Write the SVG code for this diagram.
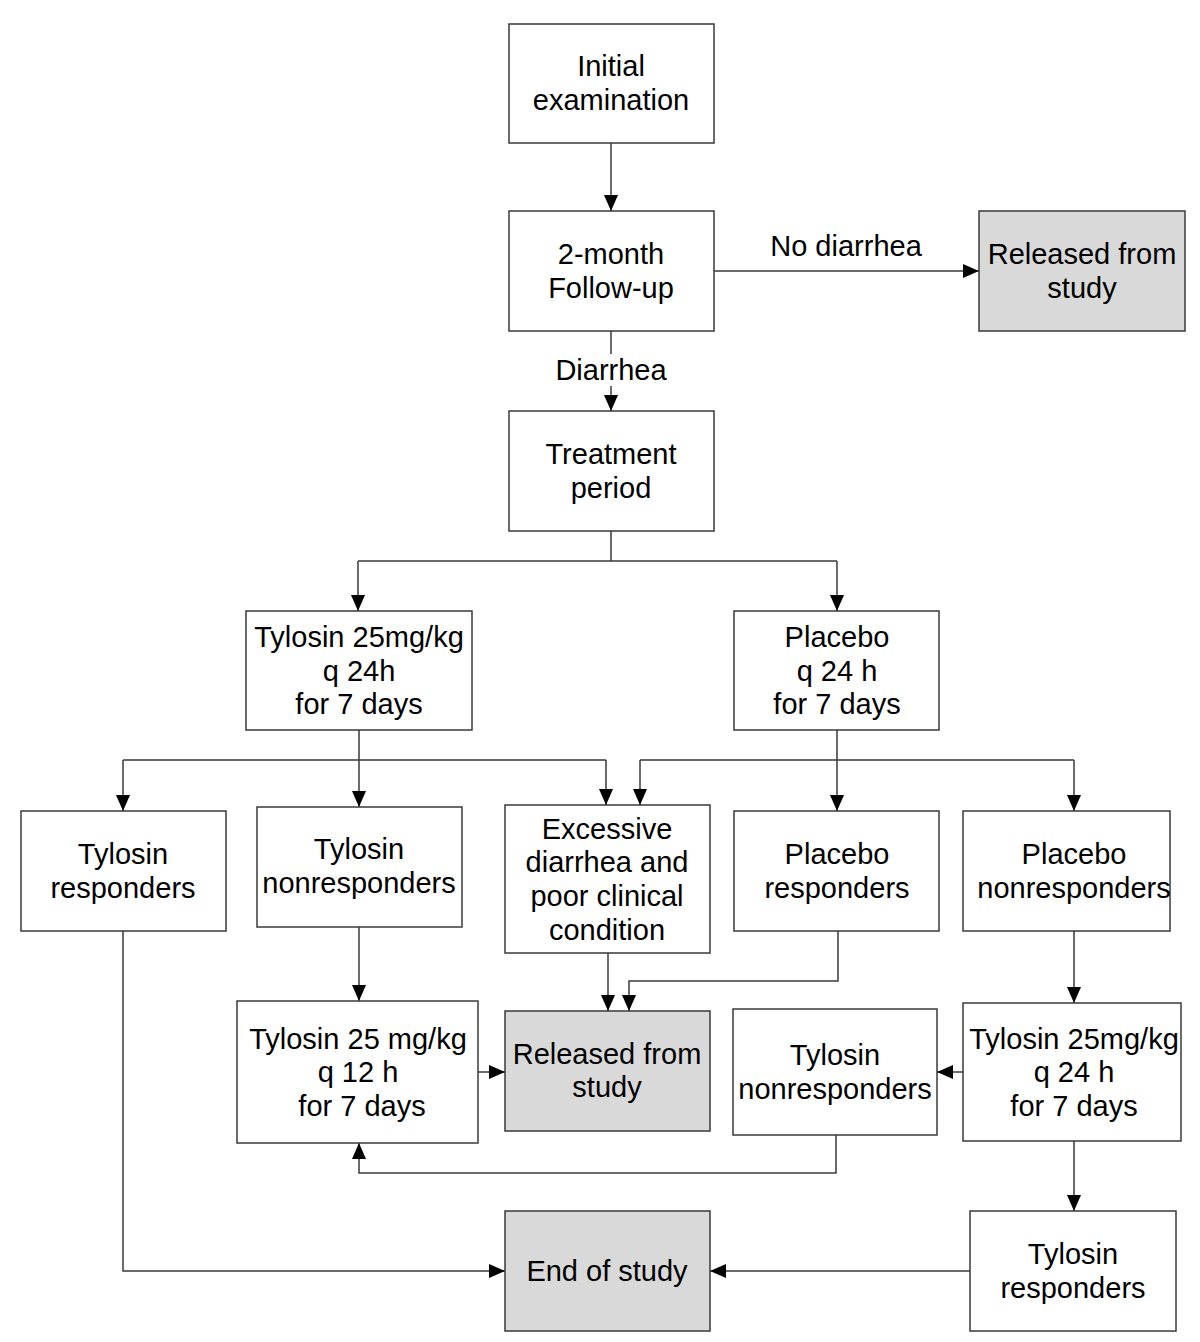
<svg xmlns="http://www.w3.org/2000/svg" width="1200" height="1342" viewBox="0 0 1200 1342">
<style>
.box{fill:#ffffff;stroke:#3a3a3a;stroke-width:1.5}
.gray{fill:#d9d9d9;stroke:#3a3a3a;stroke-width:1.5}
.t{font-family:"Liberation Sans",Arial,sans-serif;font-size:29px;fill:#000;text-anchor:middle}
.c{fill:none;stroke:#3a3a3a;stroke-width:1.5}
.a{marker-end:url(#ah)}
</style>
<defs>
<marker id="ah" viewBox="0 0 16 14" refX="16" refY="7" markerWidth="16" markerHeight="14" markerUnits="userSpaceOnUse" orient="auto">
<path d="M0,0 L16,7 L0,14 z" fill="#000"/>
</marker>
</defs>
<rect width="1200" height="1342" fill="#ffffff"/>
<g id="connectors">
<path class="c a" d="M611,143 V211"/>
<path class="c a" d="M714,271 H979"/>
<path class="c" d="M611,331 V354"/>
<path class="c a" d="M611,386 V411"/>
<path class="c" d="M611,531 V561 M358,561 H837"/>
<path class="c a" d="M358,561 V611"/>
<path class="c a" d="M837,561 V611"/>
<path class="c" d="M359,730 V760 M123,760 H606"/>
<path class="c a" d="M123,760 V811"/>
<path class="c a" d="M359,760 V807"/>
<path class="c a" d="M606,760 V805"/>
<path class="c" d="M837,730 V760 M640,760 H1074"/>
<path class="c a" d="M640,760 V805"/>
<path class="c a" d="M837,760 V811"/>
<path class="c a" d="M1074,760 V811"/>
<path class="c a" d="M359,927 V1001"/>
<path class="c a" d="M608,953 V1011"/>
<path class="c a" d="M838,931 V981 H629 V1011"/>
<path class="c a" d="M478,1072 H505"/>
<path class="c a" d="M1074,931 V1003"/>
<path class="c a" d="M963,1072 H937"/>
<path class="c a" d="M836,1135 V1173 H359 V1143"/>
<path class="c a" d="M1074,1141 V1211"/>
<path class="c a" d="M970,1271 H710"/>
<path class="c a" d="M123,931 V1271 H505"/>
</g>
<g id="initial">
<rect class="box" x="509" y="24" width="205" height="119"/>
<text class="t" x="611" y="76">Initial</text>
<text class="t" x="611" y="110">examination</text>
</g>
<g id="followup">
<rect class="box" x="509" y="211" width="205" height="120"/>
<text class="t" x="611" y="264">2-month</text>
<text class="t" x="611" y="298">Follow-up</text>
</g>
<g id="released-top">
<rect class="gray" x="979" y="211" width="206" height="120"/>
<text class="t" x="1082" y="264">Released from</text>
<text class="t" x="1082" y="298">study</text>
</g>
<g id="label-no-diarrhea"><text class="t" x="846" y="256">No diarrhea</text></g>
<g id="label-diarrhea"><text class="t" x="611" y="380">Diarrhea</text></g>
<g id="treatment">
<rect class="box" x="509" y="411" width="205" height="120"/>
<text class="t" x="611" y="464">Treatment</text>
<text class="t" x="611" y="498">period</text>
</g>
<g id="tylosin-24h">
<rect class="box" x="246" y="611" width="226" height="119"/>
<text class="t" x="359" y="647">Tylosin 25mg/kg</text>
<text class="t" x="359" y="681">q 24h</text>
<text class="t" x="359" y="714">for 7 days</text>
</g>
<g id="placebo">
<rect class="box" x="734" y="611" width="205" height="119"/>
<text class="t" x="837" y="647">Placebo</text>
<text class="t" x="837" y="681">q 24 h</text>
<text class="t" x="837" y="714">for 7 days</text>
</g>
<g id="tylosin-responders">
<rect class="box" x="21" y="811" width="205" height="120"/>
<text class="t" x="123" y="864">Tylosin</text>
<text class="t" x="123" y="898">responders</text>
</g>
<g id="tylosin-nonresponders">
<rect class="box" x="257" y="807" width="205" height="120"/>
<text class="t" x="359" y="859">Tylosin</text>
<text class="t" x="359" y="893">nonresponders</text>
</g>
<g id="excessive">
<rect class="box" x="505" y="805" width="205" height="148"/>
<text class="t" x="607" y="839">Excessive</text>
<text class="t" x="607" y="872">diarrhea and</text>
<text class="t" x="607" y="906">poor clinical</text>
<text class="t" x="607" y="940">condition</text>
</g>
<g id="placebo-responders">
<rect class="box" x="734" y="811" width="205" height="120"/>
<text class="t" x="837" y="864">Placebo</text>
<text class="t" x="837" y="898">responders</text>
</g>
<g id="placebo-nonresponders">
<rect class="box" x="963" y="811" width="207" height="120"/>
<text class="t" x="1074" y="864">Placebo</text>
<text class="t" x="1074" y="898">nonresponders</text>
</g>
<g id="tylosin-12h">
<rect class="box" x="237" y="1001" width="241" height="142"/>
<text class="t" x="358" y="1049">Tylosin 25 mg/kg</text>
<text class="t" x="358" y="1082">q 12 h</text>
<text class="t" x="362" y="1116">for 7 days</text>
</g>
<g id="released-mid">
<rect class="gray" x="505" y="1011" width="205" height="120"/>
<text class="t" x="607" y="1064">Released from</text>
<text class="t" x="607" y="1097">study</text>
</g>
<g id="tylosin-nonresponders-2">
<rect class="box" x="733" y="1009" width="204" height="126"/>
<text class="t" x="835" y="1065">Tylosin</text>
<text class="t" x="835" y="1099">nonresponders</text>
</g>
<g id="tylosin-24h-2">
<rect class="box" x="963" y="1003" width="218" height="138"/>
<text class="t" x="1074" y="1049">Tylosin 25mg/kg</text>
<text class="t" x="1074" y="1082">q 24 h</text>
<text class="t" x="1074" y="1116">for 7 days</text>
</g>
<g id="tylosin-responders-2">
<rect class="box" x="970" y="1211" width="206" height="120"/>
<text class="t" x="1073" y="1264">Tylosin</text>
<text class="t" x="1073" y="1298">responders</text>
</g>
<g id="end">
<rect class="gray" x="505" y="1211" width="205" height="120"/>
<text class="t" x="607" y="1281">End of study</text>
</g>
</svg>
